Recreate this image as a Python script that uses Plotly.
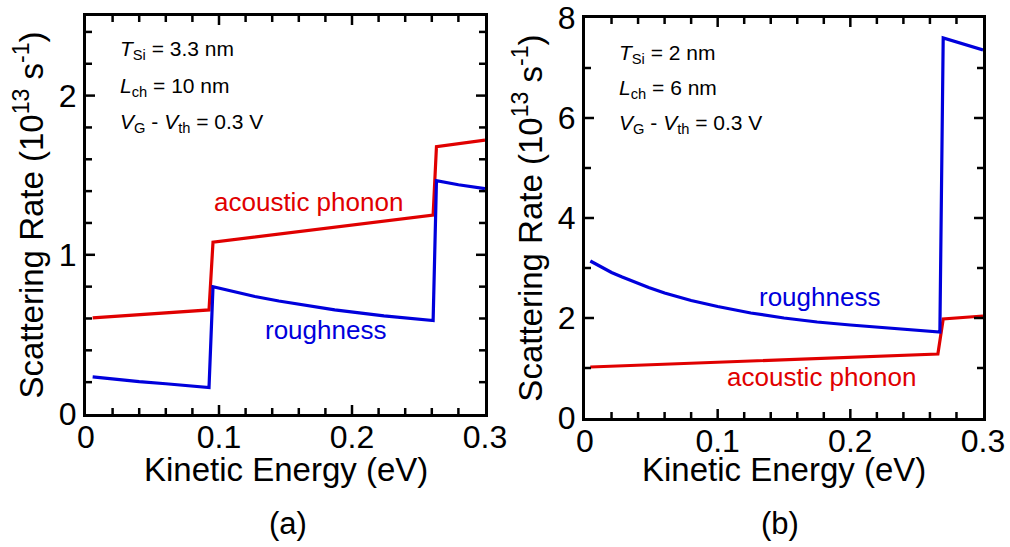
import plotly.graph_objects as go

# ---- panel (a): T_Si = 3.3 nm, L_ch = 10 nm ----
a_ac_energy = [0.005, 0.0925, 0.0955, 0.261, 0.2635, 0.30]
a_ac_rate = [0.604, 0.654, 1.08, 1.25, 1.68, 1.72]
a_sr_energy = [0.005, 0.02, 0.04, 0.06, 0.08, 0.0925,
               0.0955, 0.11, 0.127, 0.145, 0.162, 0.187, 0.224, 0.261,
               0.2635, 0.28, 0.30]
a_sr_rate = [0.233, 0.218, 0.203, 0.190, 0.175, 0.166,
             0.800, 0.770, 0.738, 0.710, 0.686, 0.654, 0.616, 0.587,
             1.465, 1.44, 1.415]

# ---- panel (b): T_Si = 2 nm, L_ch = 6 nm ----
b_ac_energy = [0.004, 0.266, 0.270, 0.30]
b_ac_rate = [1.02, 1.28, 1.98, 2.04]
b_sr_energy = [0.004, 0.012, 0.02, 0.028, 0.036, 0.048, 0.06, 0.08, 0.10,
               0.125, 0.15, 0.175, 0.20, 0.24, 0.2675, 0.270, 0.30]
b_sr_rate = [3.14, 3.02, 2.91, 2.82, 2.73, 2.61, 2.50, 2.35, 2.23,
             2.10, 2.00, 1.92, 1.86, 1.77, 1.72, 7.60, 7.36]

a_params = ["<i>T</i><sub>Si</sub> = 3.3 nm",
            "<i>L</i><sub>ch</sub> = 10 nm",
            "<i>V</i><sub>G</sub> - <i>V</i><sub>th</sub> = 0.3 V"]
b_params = ["<i>T</i><sub>Si</sub> = 2 nm",
            "<i>L</i><sub>ch</sub> = 6 nm",
            "<i>V</i><sub>G</sub> - <i>V</i><sub>th</sub> = 0.3 V"]
panel_tags = ["(a)", "(b)"]
x_title = "Kinetic Energy (eV)"
y_title = "Scattering Rate (10<sup>13</sup> s<sup>-1</sup>)"

# labelled tick values
x_labels = [0, 0.1, 0.2, 0.3]
ya_labels = [0, 1, 2]
yb_labels = [0, 2, 4, 6, 8]

# interior tick marks drawn on all four sides of each frame
x_major_marks = [0.1, 0.2]
x_minor_marks = [0.02, 0.04, 0.06, 0.08, 0.12, 0.14, 0.16, 0.18, 0.22, 0.24, 0.26, 0.28]
ya_major_marks = [1, 2]
ya_minor_marks = [0.2, 0.4, 0.6, 0.8, 1.2, 1.4, 1.6, 1.8, 2.2, 2.4]
yb_major_marks = [2, 4, 6]
yb_minor_marks = [1, 3, 5, 7]

RED = "#e00000"
BLUE = "#0000dc"
FONT = "Liberation Sans, Arial, sans-serif"
W, H = 1010, 547
MAJOR_LEN, MINOR_LEN = 9, 6

# frame geometry (pixels) of the two panels
PANELS = {
    "a": dict(x0=86, x1=485, y0=414, y1=16, xr=[0, 0.3], yr=[0, 2.5], xa="x", ya="y"),
    "b": dict(x0=585, x1=983, y0=418, y1=18, xr=[0, 0.3], yr=[0, 8], xa="x2", ya="y2"),
}

fig = go.Figure()
fig.add_trace(go.Scatter(x=a_ac_energy, y=a_ac_rate, mode="lines",
                         line=dict(color=RED, width=3.2), xaxis="x", yaxis="y"))
fig.add_trace(go.Scatter(x=a_sr_energy, y=a_sr_rate, mode="lines",
                         line=dict(color=BLUE, width=3.2), xaxis="x", yaxis="y"))
fig.add_trace(go.Scatter(x=b_ac_energy, y=b_ac_rate, mode="lines",
                         line=dict(color=RED, width=3.2), xaxis="x2", yaxis="y2"))
fig.add_trace(go.Scatter(x=b_sr_energy, y=b_sr_rate, mode="lines",
                         line=dict(color=BLUE, width=3.2), xaxis="x2", yaxis="y2"))


def add_marks(p, xvals, yvals, length):
    """Inward-pointing tick marks on all four edges, as short line segments."""
    dx = length * (p["xr"][1] - p["xr"][0]) / (p["x1"] - p["x0"])
    dy = length * (p["yr"][1] - p["yr"][0]) / (p["y0"] - p["y1"])
    xs, ys = [], []
    lo_y, hi_y = p["yr"]
    lo_x, hi_x = p["xr"]
    for v in xvals:
        xs += [v, v, None, v, v, None]
        ys += [lo_y, lo_y + dy, None, hi_y, hi_y - dy, None]
    for v in yvals:
        xs += [lo_x, lo_x + dx, None, hi_x, hi_x - dx, None]
        ys += [v, v, None, v, v, None]
    fig.add_trace(go.Scatter(x=xs, y=ys, mode="lines", connectgaps=False,
                             line=dict(color="black", width=2.5), cliponaxis=False,
                             hoverinfo="skip", xaxis=p["xa"], yaxis=p["ya"]))


add_marks(PANELS["a"], x_major_marks, ya_major_marks, MAJOR_LEN)
add_marks(PANELS["a"], x_minor_marks, ya_minor_marks, MINOR_LEN)
add_marks(PANELS["b"], x_major_marks, yb_major_marks, MAJOR_LEN)
add_marks(PANELS["b"], x_minor_marks, yb_minor_marks, MINOR_LEN)


def px_x(p):
    return p / W


def px_y(p):
    return 1 - p / H


def axis(domain, anchor, rng, labels, **extra):
    return dict(domain=domain, anchor=anchor, range=rng,
                tickmode="array", tickvals=labels, ticks="",
                showline=True, linewidth=3, linecolor="black", mirror=True,
                showgrid=False, zeroline=False,
                tickfont=dict(family=FONT, size=32, color="black"),
                **extra)


ytitle = dict(text=y_title, font=dict(family=FONT, size=33, color="black"), standoff=6)
pa, pb = PANELS["a"], PANELS["b"]

fig.update_layout(
    template="none",
    width=W, height=H,
    margin=dict(l=0, r=0, t=0, b=0),
    paper_bgcolor="white", plot_bgcolor="white",
    showlegend=False,
    xaxis=axis([px_x(pa["x0"]), px_x(pa["x1"])], "y", pa["xr"], x_labels,
               ticklabelstandoff=-7),
    yaxis=axis([px_y(pa["y0"]), px_y(pa["y1"])], "x", pa["yr"], ya_labels, title=ytitle),
    xaxis2=axis([px_x(pb["x0"]), px_x(pb["x1"])], "y2", pb["xr"], x_labels,
                ticklabelstandoff=-7),
    yaxis2=axis([px_y(pb["y0"]), px_y(pb["y1"])], "x2", pb["yr"], yb_labels, title=ytitle),
)

annos = []
for x0, rows, ys in [(118, a_params, [50, 87, 123]), (617, b_params, [54, 89, 124])]:
    for txt, yy in zip(rows, ys):
        annos.append(dict(x=px_x(x0), y=px_y(yy), xref="paper", yref="paper",
                          text=txt, showarrow=False, xanchor="left", yanchor="middle",
                          font=dict(family=FONT, size=21, color="black")))

# curve labels, placed in data coordinates
annos += [
    dict(x=0.167, y=1.33, xref="x", yref="y", text="acoustic phonon", showarrow=False,
         font=dict(family=FONT, size=26, color=RED)),
    dict(x=0.18, y=0.53, xref="x", yref="y", text="roughness", showarrow=False,
         font=dict(family=FONT, size=26, color=BLUE)),
    dict(x=0.177, y=2.42, xref="x2", yref="y2", text="roughness", showarrow=False,
         font=dict(family=FONT, size=26, color=BLUE)),
    dict(x=0.178, y=0.82, xref="x2", yref="y2", text="acoustic phonon", showarrow=False,
         font=dict(family=FONT, size=26, color=RED)),
]

# x-axis titles and panel tags
for xc in [286, 784]:
    annos.append(dict(x=px_x(xc), y=px_y(469), xref="paper", yref="paper", text=x_title,
                      showarrow=False, xanchor="center", yanchor="middle",
                      font=dict(family=FONT, size=33, color="black")))
for tag, xc in zip(panel_tags, [288, 780]):
    annos.append(dict(x=px_x(xc), y=px_y(523), xref="paper", yref="paper", text=tag,
                      showarrow=False, xanchor="center", yanchor="middle",
                      font=dict(family=FONT, size=31, color="black")))

fig.update_layout(annotations=annos)
fig.write_html("out.html")
